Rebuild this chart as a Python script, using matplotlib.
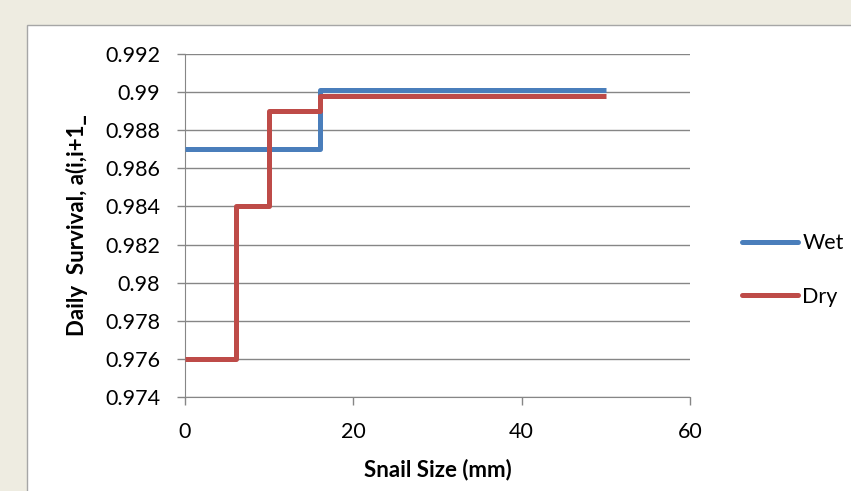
import matplotlib.pyplot as plt
from matplotlib.patches import Rectangle

# step data
wet_x = [0, 16, 16, 50]
wet_y = [0.987, 0.987, 0.9901, 0.9901]
dry_x = [0, 6, 6, 10, 10, 16, 16, 50]
dry_y = [0.976, 0.976, 0.984, 0.984, 0.989, 0.989, 0.9898, 0.9898]

y_ticks = [0.974, 0.976, 0.978, 0.98, 0.982, 0.984, 0.986, 0.988, 0.99, 0.992]
y_labels = ["0.974", "0.976", "0.978", "0.98", "0.982", "0.984", "0.986", "0.988", "0.99", "0.992"]
x_ticks = [0, 20, 40, 60]

plt.rcParams["font.family"] = ["Lato", "DejaVu Sans"]

fig = plt.figure(figsize=(8.51, 4.91), dpi=100)
fig.patch.set_facecolor("#EEECE1")
# white chart area with thin grey border
fig.patches.append(Rectangle((27 / 851, -0.05), 1.0, 1 - 25 / 491 + 0.05,
                             transform=fig.transFigure, facecolor="white",
                             edgecolor="#A6A6A6", linewidth=1, zorder=-10))

ax = fig.add_axes([185 / 851, 1 - 397 / 491, (690 - 185) / 851, (397 - 54) / 491])
ax.set_facecolor("none")

ax.plot(wet_x, wet_y, color="#4A7EBB", lw=3.6, label="Wet", solid_joinstyle="round",
        solid_capstyle="butt", zorder=3)
ax.plot(dry_x, dry_y, color="#BE4B48", lw=3.6, label="Dry", solid_joinstyle="round",
        solid_capstyle="butt", zorder=3)

ax.set_xlim(0, 60)
ax.set_ylim(0.974, 0.992)
ax.set_yticks(y_ticks)
ax.set_yticklabels(y_labels)
ax.set_xticks(x_ticks)
ax.grid(axis="y", color="#868686", lw=1)

for side in ["top", "right"]:
    ax.spines[side].set_visible(False)
ax.spines["left"].set_color("#868686")
ax.spines["bottom"].set_color("#868686")
ax.tick_params(axis="both", colors="#868686", labelcolor="black", labelsize=15.5,
               length=6, width=1)
ax.tick_params(axis="y", pad=12)
ax.tick_params(axis="x", pad=12)

ax.set_xlabel("Snail Size (mm)", fontsize=16, fontweight="bold", labelpad=12)
ax.set_ylabel("Daily  Survival, a(i,i+1_", fontsize=16, fontweight="bold", labelpad=12)

leg = ax.legend(loc="center left", bbox_to_anchor=(1.103, 0.37), frameon=False,
                fontsize=15.5, handlelength=2.6, handletextpad=0.2, labelspacing=1.55,
                borderpad=0, borderaxespad=0)
for line in leg.get_lines():
    line.set_solid_capstyle("round")

fig.savefig("out.png", dpi=100, facecolor=fig.get_facecolor())
